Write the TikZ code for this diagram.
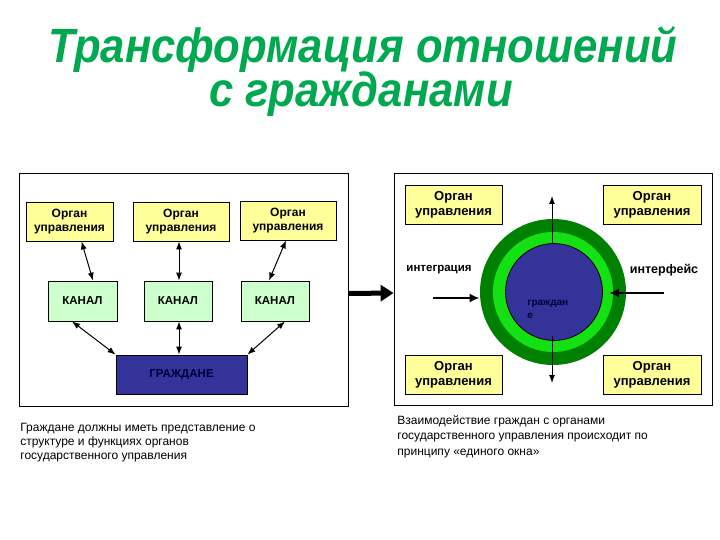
\documentclass[tikz,border=0pt]{standalone}
\usepackage{fontspec}
\setmainfont{Liberation Sans}
\usetikzlibrary{arrows.meta}
\definecolor{titleGreen}{RGB}{0,168,80}
\definecolor{organYellow}{RGB}{255,255,153}
\definecolor{kanalGreen}{RGB}{204,255,204}
\definecolor{citizenBlue}{RGB}{51,51,153}
\definecolor{citizenText}{RGB}{0,0,60}
\definecolor{ringDark}{RGB}{0,128,0}
\definecolor{ringLight}{RGB}{20,225,20}

\begin{document}
\begin{tikzpicture}[x=1pt,y=-1pt,line width=0.8pt,
    organ/.style={draw, fill=organYellow, align=center, inner sep=0pt,
        minimum height=39pt, font=\bfseries\fontsize{12}{13.5}\selectfont},
    kanal/.style={draw, fill=kanalGreen, inner sep=0pt, minimum width=68pt,
        minimum height=40pt, font=\bfseries\fontsize{11.5}{13}\selectfont},
    frame/.style={draw, inner sep=0pt},
    dbl/.style={line width=1pt, {Latex[length=8pt,width=6pt]}-{Latex[length=8pt,width=6pt]}},
    single/.style={line width=1pt, -{Latex[length=8pt,width=6pt]}},
    caption/.style={anchor=north west, align=left, inner sep=0pt,
        font=\fontsize{12}{14}\selectfont}]
    \useasboundingbox (0,0) rectangle (720,540);

    % Title
    \node[anchor=base, text=titleGreen, font=\bfseries\itshape\fontsize{48}{48}\selectfont]
        (title1) at (363,63) {\scalebox{0.91}[1]{Трансформация отношений}};
    \node[anchor=base, text=titleGreen, font=\bfseries\itshape\fontsize{48}{48}\selectfont]
        (title2) at (361,107) {\scalebox{0.91}[1]{с гражданами}};

    % Left scheme
    \node[frame, minimum width=329pt, minimum height=233pt] (leftFrame) at (183.5,289.5) {};
    \node[organ, minimum width=87pt] (o1) at (69.5,221.5) {Орган\\управления};
    \node[organ, minimum width=96pt] (o2) at (181,221.5) {Орган\\управления};
    \node[organ, minimum width=96pt] (o3) at (288,220.5) {Орган\\управления};
    \node[kanal, minimum width=69pt] (k1) at (82.5,301) {КАНАЛ};
    \node[kanal] (k2) at (178,301) {КАНАЛ};
    \node[kanal] (k3) at (275,301) {КАНАЛ};
    \node[draw, fill=citizenBlue, text=citizenText, inner sep=0pt, minimum width=131pt,
        minimum height=39pt, font=\bfseries\fontsize{11.5}{13}\selectfont]
        (gr) at (181.5,374.5) {ГРАЖДАНЕ};

    \draw[dbl] ([xshift=12pt]o1.south) -- ([xshift=10.5pt]k1.north);
    \draw[dbl] ([xshift=-2pt]o2.south) -- ([xshift=1pt]k2.north);
    \draw[dbl] ([xshift=-2pt]o3.south) -- ([xshift=-6pt]k3.north);
    \draw[dbl] ([xshift=-10.5pt]k1.south) -- (gr.north west);
    \draw[dbl] ([xshift=1pt]k2.south) -- ([xshift=-2.5pt]gr.north);
    \draw[dbl] ([xshift=10pt]k3.south) -- (gr.north east);

    \node[caption] (capLeft) at (20,423) {Граждане должны иметь представление о\\
        структуре и функциях органов\\государственного управления};

    % Transition arrow
    \node[frame, minimum width=318pt, minimum height=232pt] (rightFrame) at (553,289) {};
    \draw[line width=5pt, -{Triangle[length=13pt,width=16pt]}]
        ([yshift=-4pt]leftFrame.east) -- ([yshift=-4pt]rightFrame.west);

    % Right scheme
    \node[circle, fill=ringDark, inner sep=0pt, minimum size=146pt] (ringOut) at (553,292) {};
    \node[circle, fill=ringLight, inner sep=0pt, minimum size=120pt] (ringIn) at (553,292) {};
    \node[circle, draw, fill=citizenBlue, inner sep=0pt, minimum size=97pt] (core) at (554,292) {};
    \node[anchor=north west, align=left, inner sep=0pt, text=citizenText,
        font=\bfseries\fontsize{10}{13}\selectfont] (coreText) at (527,300) {граждан\\е};

    \node[organ, minimum width=97pt, font=\bfseries\fontsize{13}{15}\selectfont]
        (r1) at (453.5,204.5) {Орган\\управления};
    \node[organ, minimum width=98pt, font=\bfseries\fontsize{13}{15}\selectfont]
        (r2) at (652,204.5) {Орган\\управления};
    \node[organ, minimum width=97pt, font=\bfseries\fontsize{13}{15}\selectfont]
        (r3) at (453.5,374.5) {Орган\\управления};
    \node[organ, minimum width=98pt, font=\bfseries\fontsize{13}{15}\selectfont]
        (r4) at (652,374.5) {Орган\\управления};

    \node[font=\bfseries\fontsize{11.5}{14}\selectfont] (integ) at (439,270) {интеграция};
    \node[font=\bfseries\fontsize{12.5}{14}\selectfont] (iface) at (664,270) {интерфейс};

    \coordinate (inL) at (433,298);
    \coordinate (inR) at (664,293);
    \coordinate (upEnd) at (552,196);
    \coordinate (downStart) at (552,336);
    \coordinate (downEnd) at (552,383);
    \draw[line width=2pt, -{Latex[length=10pt,width=9pt]}] (inL) -- (ringOut.west |- inL);
    \draw[line width=2pt, -{Latex[length=10pt,width=9pt]}] (inR) -- (609,293);
    \draw[single] (core.north -| upEnd) -- (upEnd);
    \draw[single] (downStart) -- (downEnd);

    \node[caption, font=\fontsize{12}{15.5}\selectfont] (capRight) at (397,415)
        {Взаимодействие граждан с органами\\
        государственного управления  происходит по\\принципу «единого окна»};
\end{tikzpicture}
\end{document}
